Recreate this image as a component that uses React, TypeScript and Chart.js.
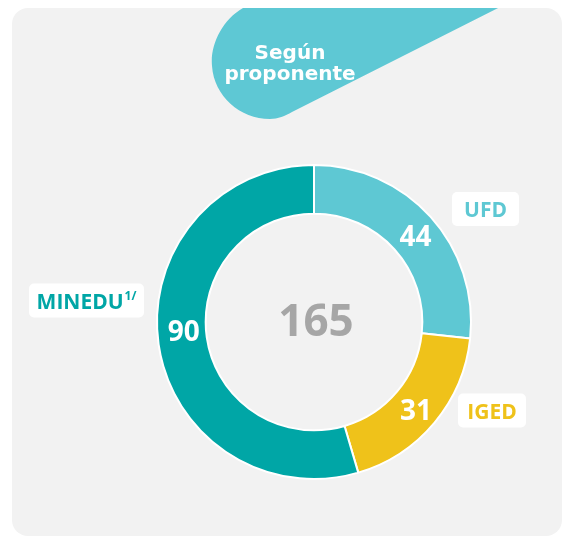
import React, { useEffect, useRef } from "react";
import { Chart, registerables } from "chart.js";

Chart.register(...registerables);

// ---- data ----
const categories = ["UFD", "IGED", "MINEDU"];
const values = [44, 31, 90];
const superscripts = ["", "", "1/"];
const titleLines = ["Según", "proponente"];
const sliceColors = ["#5EC8D3", "#EFC21A", "#00A6A6"];

// ---- styling (callout boxes relative to doughnut centre, value-label nudges) ----
const boxStyle = [
  { dx: 171.5, dy: -113, w: 67 },
  { dx: 178, dy: 88.5, w: 68 },
  { dx: -227.5, dy: -21.5, w: 115 },
];
const valueNudge = [
  { dx: 3, dy: 4 },
  { dx: 0, dy: 4 },
  { dx: 1, dy: -9 },
];
const PANEL_BG = "#F2F2F2";
const BANNER = "#5EC8D4";
const FONT = "'Open Sans', 'Noto Sans', sans-serif";

const decorPlugin = {
  id: "decor",
  beforeDraw(chart: any) {
    const ctx: CanvasRenderingContext2D = chart.ctx;
    const W = chart.width;
    const H = chart.height;
    ctx.save();
    ctx.fillStyle = "#FFFFFF";
    ctx.fillRect(0, 0, W, H);
    // panel
    ctx.beginPath();
    (ctx as any).roundRect(12, 8, W - 14, H - 9, 16);
    ctx.fillStyle = PANEL_BG;
    ctx.fill();
    ctx.clip();
    // banner
    ctx.beginPath();
    ctx.moveTo(243, 0);
    ctx.lineTo(243, 8);
    ctx.bezierCurveTo(222, 20, 210, 45, 212, 66);
    ctx.bezierCurveTo(214, 96, 240, 119, 270, 119);
    ctx.bezierCurveTo(278, 119, 285, 116, 292, 112);
    ctx.lineTo(510, 2);
    ctx.lineTo(510, 0);
    ctx.closePath();
    ctx.fillStyle = BANNER;
    ctx.fill();
    ctx.fillStyle = "#FFFFFF";
    ctx.font = "bold 20px 'DejaVu Sans', sans-serif";
    ctx.textAlign = "center";
    ctx.textBaseline = "alphabetic";
    ctx.fillText(titleLines[0], 290, 59);
    ctx.fillText(titleLines[1], 290, 80);
    ctx.restore();
  },
  afterDatasetsDraw(chart: any) {
    const ctx: CanvasRenderingContext2D = chart.ctx;
    const meta = chart.getDatasetMeta(0);
    const data: number[] = chart.data.datasets[0].data;
    const total = data.reduce((a, b) => a + b, 0);
    ctx.save();
    let cx = 0;
    let cy = 0;
    meta.data.forEach((arc: any, i: number) => {
      const p = arc.getProps(["x", "y", "startAngle", "endAngle", "innerRadius", "outerRadius"], true);
      cx = p.x;
      cy = p.y;
      const mid = (p.startAngle + p.endAngle) / 2;
      const r = (p.innerRadius + p.outerRadius) / 2;
      ctx.fillStyle = "#FFFFFF";
      ctx.font = `bold 28px ${FONT}`;
      ctx.textAlign = "center";
      ctx.textBaseline = "middle";
      ctx.fillText(
        String(data[i]),
        p.x + r * Math.cos(mid) + valueNudge[i].dx,
        p.y + r * Math.sin(mid) + 1 + valueNudge[i].dy
      );

      // callout box
      const b = boxStyle[i];
      const bx = p.x + b.dx;
      const by = p.y + b.dy;
      const h = 34;
      ctx.beginPath();
      (ctx as any).roundRect(bx - b.w / 2, by - h / 2, b.w, h, 5);
      ctx.fillStyle = "#FFFFFF";
      ctx.fill();
      ctx.fillStyle = sliceColors[i];
      ctx.font = `bold 21px ${FONT}`;
      const mainW = ctx.measureText(categories[i]).width;
      let supW = 0;
      if (superscripts[i]) {
        ctx.font = `bold 12px ${FONT}`;
        supW = ctx.measureText(superscripts[i]).width + 1;
      }
      const startX = bx - (mainW + supW) / 2;
      ctx.font = `bold 21px ${FONT}`;
      ctx.textAlign = "left";
      ctx.textBaseline = "alphabetic";
      ctx.fillText(categories[i], startX, by + 8);
      if (superscripts[i]) {
        ctx.font = `bold 12px ${FONT}`;
        ctx.fillText(superscripts[i], startX + mainW + 1, by - 1);
      }
    });
    // centre total
    ctx.fillStyle = "#A6A6A6";
    ctx.font = `bold 44px ${FONT}`;
    ctx.textAlign = "center";
    ctx.textBaseline = "middle";
    ctx.fillText(String(total), cx + 2, cy + 1);
    ctx.restore();
  },
};

export default function App() {
  const ref = useRef<HTMLCanvasElement | null>(null);
  useEffect(() => {
    if (!ref.current) return;
    const chart = new Chart(ref.current, {
      type: "doughnut",
      data: {
        labels: categories,
        datasets: [
          {
            data: values,
            backgroundColor: sliceColors,
            borderColor: "#FFFFFF",
            borderWidth: 2,
          },
        ],
      },
      options: {
        responsive: false,
        animation: false,
        cutout: "69%",
        rotation: 0,
        layout: { padding: { left: 156, right: 92, top: 164, bottom: 57 } },
        plugins: {
          legend: { display: false },
          tooltip: { enabled: false },
          title: { display: false },
        },
      },
      plugins: [decorPlugin],
    });
    return () => chart.destroy();
  }, []);
  return (
    <div style={{ position: "absolute", left: 0, top: 0, width: 564, height: 537 }}>
      <canvas ref={ref} width={564} height={537} style={{ display: "block" }} />
    </div>
  );
}
